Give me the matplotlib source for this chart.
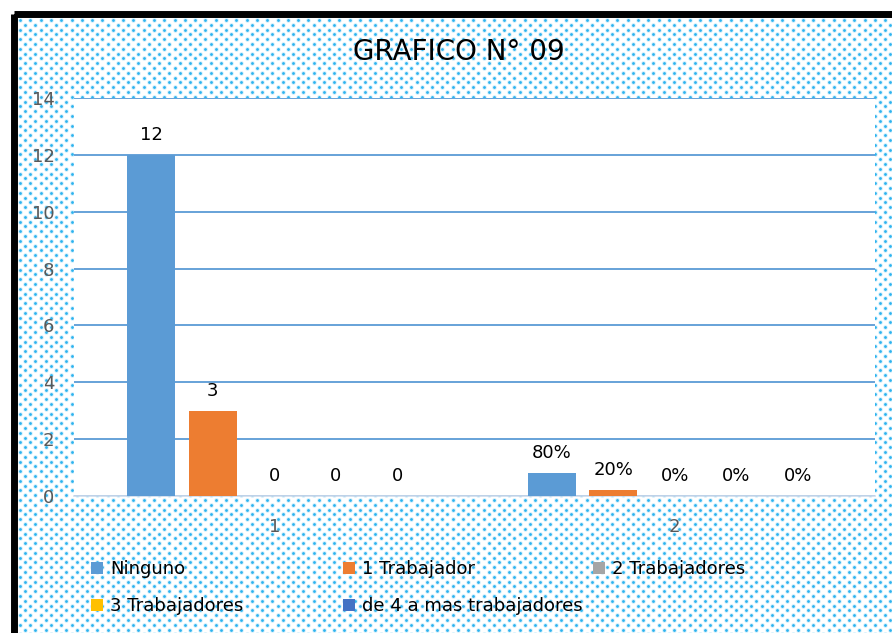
import matplotlib.pyplot as plt
import numpy as np
from matplotlib.patches import Rectangle

categories = ['1', '2']
series = ['Ninguno', '1 Trabajador', '2 Trabajadores', '3 Trabajadores',
          'de 4 a mas trabajadores']
values = [
    [12, 0.8],
    [3, 0.2],
    [0, 0],
    [0, 0],
    [0, 0],
]
bar_labels = [
    ['12', '80%'],
    ['3', '20%'],
    ['0', '0%'],
    ['0', '0%'],
    ['0', '0%'],
]
colors = ['#5b9bd5', '#ed7d31', '#a5a5a5', '#ffc000', '#4472c4']
yticks = [0, 2, 4, 6, 8, 10, 12, 14]

W, H = 892, 633
fig = plt.figure(figsize=(W / 100, H / 100), dpi=100)
fig.patch.set_facecolor('white')

# dotted background + black frame (pixel coordinates)
bg = fig.add_axes([0, 0, 1, 1], zorder=-1)
bg.set_xlim(0, W)
bg.set_ylim(H, 0)
bg.axis('off')
gx, gy = [], []
for i, yy in enumerate(np.arange(20, H + 5, 4.8)):
    off = 0 if i % 2 == 0 else 5.15
    xx = np.arange(20 + off, W + 5, 10.3)
    gx.extend(xx)
    gy.extend([yy] * len(xx))
bg.scatter(gx, gy, s=11, color='#d3effc', linewidths=0)
bg.scatter(gx, gy, s=4, color='#2db3ef', linewidths=0)
bg.add_patch(Rectangle((13.5, 13.5), 1000, 1000, fill=False,
                       edgecolor='black', linewidth=5, joinstyle='round'))

ax = fig.add_axes([74 / W, 1 - 496 / H, (875 - 74) / W, (496 - 98) / H])
ax.set_facecolor('white')

x = np.arange(len(categories))
step = 0.1535
width = 0.12
for k, name in enumerate(series):
    bars = ax.bar(x + (k - 2) * step, values[k], width, color=colors[k],
                  label=name, zorder=3)
    ax.bar_label(bars, labels=bar_labels[k], padding=8, fontsize=13,
                 color='black')
    # legend entries placed like the original (3 columns)
    col, row = k % 3, k // 3
    lx = [91, 343, 593][col] / W
    ly = 1 - [569, 606][row] / H
    fig.legend([bars], [name], loc='center left', bbox_to_anchor=(lx, ly),
               frameon=False, fontsize=13, borderpad=0, borderaxespad=0,
               handlelength=0.67, handleheight=0.67, handletextpad=0.4)

ax.set_xlim(-0.5, 1.5)
ax.set_ylim(0, 14)
ax.set_xticks(x)
ax.set_xticklabels(categories)
ax.set_yticks(yticks)
ax.tick_params(axis='both', length=0, labelsize=13, labelcolor='#595959')
ax.tick_params(axis='y', pad=14)
ax.tick_params(axis='x', pad=16)
ax.yaxis.grid(True, color='#5b9bd5', linewidth=1.3)
ax.set_axisbelow(True)
for s in ['top', 'right', 'left']:
    ax.spines[s].set_visible(False)
ax.spines['bottom'].set_color('#cfdcec')
ax.spines['bottom'].set_linewidth(1.2)

fig.text(459 / W, 1 - 52 / H, 'GRAFICO N° 09', ha='center', va='center',
         fontsize=20, color='black')

fig.savefig('out.png', dpi=100)
